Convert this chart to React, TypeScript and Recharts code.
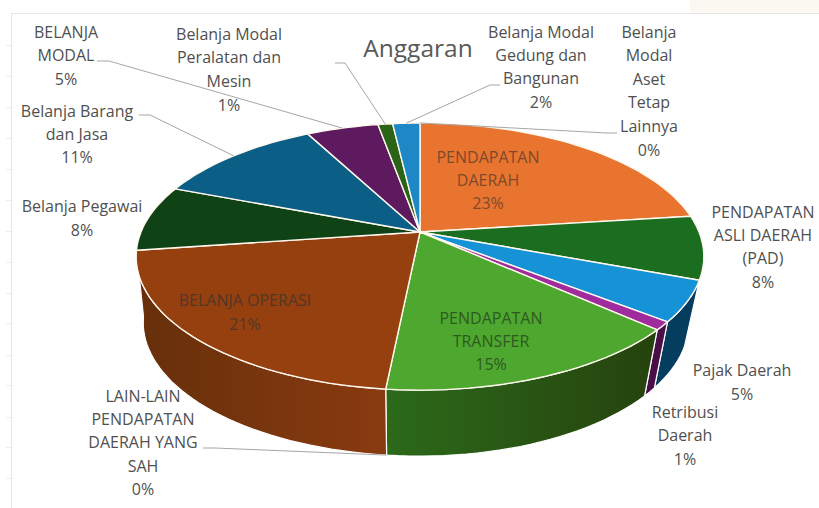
import React from 'react';
import { PieChart, Pie } from 'recharts';

const categories = [
  'PENDAPATAN DAERAH', 'PENDAPATAN ASLI DAERAH (PAD)', 'Pajak Daerah', 'Retribusi Daerah',
  'PENDAPATAN TRANSFER', 'LAIN-LAIN PENDAPATAN DAERAH YANG SAH', 'BELANJA OPERASI',
  'Belanja Pegawai', 'Belanja Barang dan Jasa', 'BELANJA MODAL',
  'Belanja Modal Peralatan dan Mesin', 'Belanja Modal Gedung dan Bangunan', 'Belanja Modal Aset Tetap Lainnya',
];
const values = [23, 7.7, 4.9, 1, 15, 0, 21.2, 8, 11.45, 4.9, 1, 1.85, 0];
const labelLines = [
  ['PENDAPATAN', 'DAERAH'], ['PENDAPATAN', 'ASLI DAERAH', '(PAD)'], ['Pajak Daerah'], ['Retribusi', 'Daerah'],
  ['PENDAPATAN', 'TRANSFER'], ['LAIN-LAIN', 'PENDAPATAN', 'DAERAH YANG', 'SAH'], ['BELANJA OPERASI'],
  ['Belanja Pegawai'], ['Belanja Barang', 'dan Jasa'], ['BELANJA', 'MODAL'],
  ['Belanja Modal', 'Peralatan dan', 'Mesin'], ['Belanja Modal', 'Gedung dan', 'Bangunan'],
  ['Belanja', 'Modal', 'Aset', 'Tetap', 'Lainnya'],
];
const axisTicks = [45, 76, 107, 138, 169, 200, 231, 262, 293, 323, 355, 385, 417, 447, 478];
const topColors = ['#E9742F', '#1B6E1F', '#1593D6', '#A02B9C', '#4EA72E', '#7f7f7f', '#96400F', '#0F4215', '#0B5E85', '#5E1A5E', '#2A6417', '#1E88C7', '#7f7f7f'];
const wallFrom = ['#B85A20', '#124d18', '#053D5E', '#4a0f48', '#2c6a1a', '#555', '#8a3a10', '#0a2d0e', '#063f5a', '#3f1140', '#1c4510', '#135a85', '#555'];
const wallTo = ['#B85A20', '#124d18', '#053D5E', '#4a0f48', '#26420e', '#555', '#66300a', '#0a2d0e', '#063f5a', '#3f1140', '#1c4510', '#135a85', '#555'];

const labelLayout: { x: number; y: number; step: number; inside?: boolean; color?: string; elbow?: [number, number][]; base?: boolean }[] = [
  { x: 488, y: 157, step: 23, inside: true, color: '#7d4a2b' },
  { x: 763, y: 212, step: 23.3 },
  { x: 742, y: 370, step: 24 },
  { x: 685, y: 412, step: 23.5 },
  { x: 491, y: 318, step: 23, inside: true, color: '#2e5a22' },
  { x: 143, y: 396, step: 23.4, elbow: [[203, 448], [215, 448]], base: true },
  { x: 245, y: 300, step: 24, inside: true, color: '#523724' },
  { x: 82, y: 206, step: 24 },
  { x: 77, y: 111, step: 23, elbow: [[139, 115], [150, 115]] },
  { x: 66, y: 32, step: 23.5, elbow: [[97, 61], [109, 61]] },
  { x: 229, y: 34, step: 23.7, elbow: [[335, 63], [345, 63]] },
  { x: 541, y: 32, step: 23.4, elbow: [[500, 85], [490, 85]] },
  { x: 649, y: 32, step: 23.6, elbow: [[617, 133], [607, 133]] },
];

const data = categories.map((name, i) => ({ name, value: values[i], fill: topColors[i] }));

const CX = 420, CY = 232, RX = 279, RY = 129, K = 0.184, DEPTH = 66;
const rad = (d: number) => (d * Math.PI) / 180;
const project = (t: number): [number, number] => {
  const v = -Math.cos(rad(t));
  const w = 1 - K * v;
  return [CX + (RX * Math.sin(rad(t))) / w, CY + (RY * v) / w];
};
const baseOf = ([x, y]: [number, number]): [number, number] => [CX + (x - CX) * (x < CX ? 0.975 : 0.947), y + DEPTH];

const arc = (a: number, b: number): [number, number][] => {
  const n = Math.max(2, Math.ceil((b - a) / 2));
  return Array.from({ length: n + 1 }, (_, i) => project(a + ((b - a) * i) / n));
};
const toPath = (pts: [number, number][]) => pts.map((p, i) => `${i ? 'L' : 'M'}${p[0].toFixed(1)},${p[1].toFixed(1)}`).join(' ');

const Slice = (props: any) => {
  const i: number = props.index ?? categories.indexOf(props.name ?? props.payload?.name);
  const a = 90 - props.startAngle;
  const b = 90 - props.endAngle;
  if (Math.abs(b - a) < 0.01) return null;
  const va = Math.max(a, 96);
  const vb = Math.min(b, 262);
  const id = `wall-${i}`;
  return (
    <g>
      {vb > va && (
        <>
          <defs>
            <linearGradient id={id} x1="0" x2="1" y1="0" y2="0">
              <stop offset="0" stopColor={i === 6 ? wallTo[i] : wallFrom[i]} />
              <stop offset="1" stopColor={i === 6 ? wallFrom[i] : wallTo[i]} />
            </linearGradient>
          </defs>
          <path
            d={`${toPath(arc(va, vb))} L${toPath(arc(va, vb).map(baseOf).reverse()).slice(1)} Z`}
            fill={`url(#${id})`}
            stroke="#fff"
            strokeWidth={1.2}
          />
        </>
      )}
      <path d={`M${CX},${CY} L${toPath(arc(a, b)).slice(1)} Z`} fill={topColors[i]} stroke="#fff8ee" strokeWidth={1.4} strokeLinejoin="round" />
    </g>
  );
};

const SliceLabel = (props: any) => {
  const i: number = props.index;
  const l = labelLayout[i];
  const lines = [...labelLines[i], `${Math.round(values[i])}%`];
  const t = 90 - props.midAngle;
  const end = project(t);
  const tip = l.base ? baseOf(end) : end;
  return (
    <g>
      {l.elbow && <path d={toPath([...l.elbow, tip])} fill="none" stroke="#a6a6a6" strokeWidth={1} />}
      <text textAnchor="middle" fontFamily="'Open Sans', sans-serif" fontSize={16} fill={l.color ?? '#505050'}>
        {lines.map((s, k) => (
          <tspan key={k} x={l.x} y={l.y + k * l.step} dy="0.35em">{s}</tspan>
        ))}
      </text>
    </g>
  );
};

export default function App() {
  return (
    <div style={{ position: 'absolute', left: 0, top: 0, width: 819, height: 508, background: '#fff', overflow: 'hidden' }}>
      <div style={{ position: 'absolute', left: 690, top: 0, width: 129, height: 13, background: '#fbf8f2' }} />
      <div style={{ position: 'absolute', left: 11, top: 13, width: 808, height: 1, background: '#e6e6e6' }} />
      <div style={{ position: 'absolute', left: 11, top: 13, width: 1, height: 495, background: '#e6e6e6' }} />
      {axisTicks.map((y) => (
        <div key={y} style={{ position: 'absolute', left: 6, top: y, width: 5, height: 1, background: '#eeeeee' }} />
      ))}
      <PieChart width={819} height={508} style={{ position: 'absolute', left: 0, top: 0 }}>
        <text x={418} y={48} dy="0.35em" textAnchor="middle" fontFamily="'Open Sans', sans-serif" fontSize={24.5} fill="#595959">Anggaran</text>
        <Pie
          data={data}
          dataKey="value"
          nameKey="name"
          cx={CX}
          cy={CY}
          outerRadius={120}
          startAngle={90}
          endAngle={-270}
          stroke="none"
          shape={Slice}
          label={SliceLabel}
          labelLine={false}
          isAnimationActive={false}
        />
      </PieChart>
    </div>
  );
}
